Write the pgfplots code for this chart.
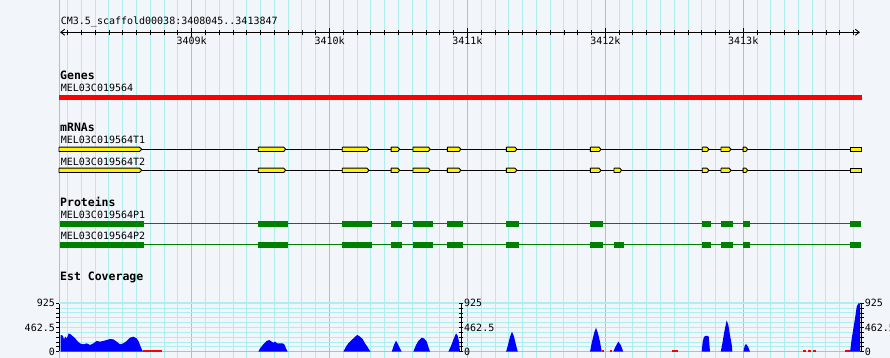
\documentclass[border=0pt]{standalone}
\usepackage{fontspec}
\setmainfont{DejaVu Sans Mono}
\usepackage{pgfplots}
\pgfplotsset{compat=1.18}
\usetikzlibrary{arrows.meta}
\definecolor{bgc}{HTML}{F2F5FA}
\definecolor{gridc}{HTML}{AEEEEE}
\definecolor{majc}{HTML}{93C8E8}
\definecolor{pgreen}{HTML}{008000}
\definecolor{covblue}{HTML}{0000FF}
\newcommand{\lf}{\fontsize{10}{12}\selectfont}
\newcommand{\bft}{\fontsize{11.5}{13}\selectfont\bfseries}
% mRNA exon: start, box end, tip end
\newcommand{\exonA}[3]{\addplot[fill=yellow, draw=black, line width=0.9pt] coordinates {(#1,147.1) (#2,147.1) (#3,149.3) (#2,151.5) (#1,151.5) (#1,147.1)};}
\newcommand{\exonB}[3]{\addplot[fill=yellow, draw=black, line width=0.9pt] coordinates {(#1,168.1) (#2,168.1) (#3,170.3) (#2,172.5) (#1,172.5) (#1,168.1)};}
\newcommand{\protA}[2]{\addplot[pgreen, line width=6pt] coordinates {(#1,223.7) (#2,223.7)};}
\newcommand{\protB}[2]{\addplot[pgreen, line width=6pt] coordinates {(#1,244.8) (#2,244.8)};}
\begin{document}
\begin{tikzpicture}
\useasboundingbox (0,0) rectangle (890pt,358pt);
\clip (0,0) rectangle (890pt,358pt);
% ---------- frame: background, vertical grid, feature tracks ----------
\begin{axis}[
  at={(0pt,0pt)}, anchor=south west,
  scale only axis, width=890pt, height=358pt,
  xmin=-390.2, xmax=6064.7, ymin=0, ymax=358, y dir=reverse,
  axis background/.style={fill=bgc},
  axis line style={draw=none},
  xtick=\empty, ytick=\empty,
  clip=false,
]
% vertical grid every 100 bp
\addplot[gridc, line width=1pt, ycomb] coordinates {
(100,358) (200,358) (300,358) (400,358) (500,358) (600,358) (700,358) (800,358) (900,358)
(1100,358) (1200,358) (1300,358) (1400,358) (1500,358) (1600,358) (1700,358) (1800,358) (1900,358)
(2100,358) (2200,358) (2300,358) (2400,358) (2500,358) (2600,358) (2700,358) (2800,358) (2900,358)
(3100,358) (3200,358) (3300,358) (3400,358) (3500,358) (3600,358) (3700,358) (3800,358) (3900,358)
(4100,358) (4200,358) (4300,358) (4400,358) (4500,358) (4600,358) (4700,358) (4800,358) (4900,358)
(5100,358) (5200,358) (5300,358) (5400,358) (5500,358) (5600,358) (5700,358) (5800,358)};
\addplot[majc, line width=1pt, ycomb] coordinates {(41,358) (1000,358) (2000,358) (3000,358) (4000,358) (5000,358)};
% Genes
\addplot[red, line width=5pt] coordinates {(38,97.5) (5860,97.5)};
% mRNAs
\addplot[black, line width=0.9pt] coordinates {(38,149.3) (5860,149.3)};
\addplot[black, line width=0.9pt] coordinates {(38,170.3) (5860,170.3)};
\exonA{38}{621}{638}
\exonA{1483}{1667}{1682}
\exonA{2092}{2271}{2286}
\exonA{2446}{2494}{2509}
\exonA{2605}{2716}{2731}
\exonA{2854}{2938}{2953}
\exonA{3282}{3344}{3359}
\exonA{3891}{3954}{3969}
\exonA{4703}{4737}{4752}
\exonA{4839}{4897}{4912}
\exonA{4999}{5018}{5033}
\exonA{5777}{5860}{5860}
\exonB{38}{621}{638}
\exonB{1483}{1667}{1682}
\exonB{2092}{2271}{2286}
\exonB{2446}{2494}{2509}
\exonB{2605}{2716}{2731}
\exonB{2854}{2938}{2953}
\exonB{3282}{3344}{3359}
\exonB{3891}{3954}{3969}
\exonB{4063}{4104}{4119}
\exonB{4703}{4737}{4752}
\exonB{4839}{4897}{4912}
\exonB{4999}{5018}{5033}
\exonB{5777}{5860}{5860}
% Proteins
\addplot[pgreen, line width=0.9pt] coordinates {(43,223.7) (5854,223.7)};
\addplot[pgreen, line width=0.9pt] coordinates {(43,244.8) (5854,244.8)};
\protA{43}{652}
\protA{1483}{1696}
\protA{2092}{2306}
\protA{2446}{2523}
\protA{2605}{2750}
\protA{2854}{2966}
\protA{3282}{3372}
\protA{3891}{3983}
\protA{4703}{4767}
\protA{4839}{4926}
\protA{4999}{5049}
\protA{5777}{5854}
\protB{43}{652}
\protB{1483}{1696}
\protB{2092}{2306}
\protB{2446}{2523}
\protB{2605}{2750}
\protB{2854}{2966}
\protB{3282}{3372}
\protB{3891}{3983}
\protB{4063}{4136}
\protB{4703}{4767}
\protB{4839}{4926}
\protB{4999}{5049}
\protB{5777}{5854}
% labels
\node[anchor=base west, inner sep=0pt, font=\lf] at (axis cs:50,24.5) {CM3.5\_scaffold00038:3408045..3413847};
\node[anchor=base west, inner sep=0pt, font=\bft] at (axis cs:45,79.7) {Genes};
\node[anchor=base west, inner sep=0pt, font=\lf] at (axis cs:50,92) {MEL03C019564};
\node[anchor=base west, inner sep=0pt, font=\bft] at (axis cs:45,132) {mRNAs};
\node[anchor=base west, inner sep=0pt, font=\lf] at (axis cs:50,144) {MEL03C019564T1};
\node[anchor=base west, inner sep=0pt, font=\lf] at (axis cs:50,165.7) {MEL03C019564T2};
\node[anchor=base west, inner sep=0pt, font=\bft] at (axis cs:45,206) {Proteins};
\node[anchor=base west, inner sep=0pt, font=\lf] at (axis cs:50,218.3) {MEL03C019564P1};
\node[anchor=base west, inner sep=0pt, font=\lf] at (axis cs:50,239.3) {MEL03C019564P2};
\node[anchor=base west, inner sep=0pt, font=\bft] at (axis cs:45,280) {Est Coverage};
\end{axis}
% ---------- ruler ----------
\begin{axis}[
  at={(60pt,325.7pt)}, anchor=south west,
  scale only axis, width=800pt, height=10pt,
  xmin=45, xmax=5847, ymin=0, ymax=1,
  axis x line*=bottom, axis y line=none,
  x axis line style={{Straight Barb[length=4pt,width=6pt]}-{Straight Barb[length=4pt,width=6pt]}, line width=0.9pt},
  xtick={1000,2000,3000,4000,5000},
  xticklabels={3409k,3410k,3411k,3412k,3413k},
  minor xtick={100,200,...,5800},
  tick align=center, major tick length=9.4pt, minor tick length=4.7pt,
  tick style={black, line width=0.9pt},
  xticklabel style={font=\lf, anchor=north, inner sep=0pt},
]
\end{axis}
% ---------- coverage ----------
\begin{axis}[
  at={(59.45pt,6.3pt)}, anchor=south west,
  scale only axis, width=802.2pt, height=48.4pt,
  xmin=41, xmax=5859, ymin=0, ymax=925,
  axis x line=none, axis y line*=left,
  ytick={0,462.5,925}, yticklabels={0,462.5,925},
  minor ytick={92.5,185,277.5,370,555,647.5,740,832.5},
  ymajorgrids, yminorgrids,
  major grid style={gridc, line width=1pt},
  minor grid style={gridc, line width=1pt},
  tick align=outside, major tick length=3.4pt, minor tick length=3.4pt,
  tick style={black, line width=0.9pt},
  y axis line style={black, line width=1pt},
  yticklabel style={font=\lf, inner sep=0pt, xshift=-1pt},
  clip=false,
]
\addplot[gridc, line width=2pt] coordinates {(41,925) (5859,925)};
\addplot[majc, line width=1pt] coordinates {(41,0) (5859,0)};
\addplot[fill=covblue, draw=none] coordinates {(50,0) (50,320) (65,306) (74,236) (83,287) (94,255) (108,350) (123,331) (141,287) (156,255) (170,205) (190,159) (214,140) (239,159) (263,128) (287,159) (311,205) (335,192) (359,205) (384,224) (408,243) (432,236) (456,192) (480,140) (504,159) (529,205) (553,268) (577,287) (601,255) (616,192) (625,128) (640,33) (649,0)};
\addplot[fill=covblue, draw=none] coordinates {(1483,0) (1496,63) (1519,140) (1544,205) (1563,224) (1580,192) (1592,172) (1604,192) (1621,159) (1641,159) (1660,159) (1672,140) (1684,63) (1696,0)};
\addplot[fill=covblue, draw=none] coordinates {(2100,0) (2119,96) (2136,159) (2161,224) (2185,287) (2201,320) (2221,287) (2240,243) (2257,159) (2274,96) (2288,33) (2298,0)};
\addplot[fill=covblue, draw=none] coordinates {(2451,0) (2467,128) (2482,211) (2499,128) (2523,0)};
\addplot[fill=covblue, draw=none] coordinates {(2607,0) (2627,128) (2644,205) (2668,268) (2685,255) (2705,192) (2716,96) (2729,0)};
\addplot[fill=covblue, draw=none] coordinates {(2861,0) (2879,96) (2897,224) (2917,350) (2929,306) (2939,192) (2946,0)};
\addplot[fill=covblue, draw=none] coordinates {(3280,0) (3294,128) (3309,287) (3323,383) (3338,287) (3352,128) (3365,0)};
\addplot[fill=covblue, draw=none] coordinates {(3889,0) (3903,192) (3918,350) (3932,460) (3947,350) (3961,192) (3974,0)};
\addplot[fill=covblue, draw=none] coordinates {(4058,0) (4070,77) (4094,192) (4112,128) (4130,0)};
\addplot[fill=covblue, draw=none] coordinates {(4699,0) (4706,192) (4716,287) (4735,306) (4750,287) (4759,0)};
\addplot[fill=covblue, draw=none] coordinates {(4837,0) (4851,192) (4863,383) (4880,599) (4892,511) (4904,320) (4917,128) (4921,0)};
\addplot[fill=covblue, draw=none] coordinates {(5001,0) (5011,115) (5020,147) (5035,96) (5049,0)};
\addplot[fill=covblue, draw=none] coordinates {(5775,0) (5787,255) (5799,446) (5811,638) (5823,862) (5835,925) (5847,925) (5847,0)};
% zero-coverage marks
\addplot[red, line width=1.3pt] coordinates {(649,12) (785,12)};
\addplot[red, line width=1.3pt] coordinates {(3974,12) (3991,12)};
\addplot[red, line width=1.3pt] coordinates {(4035,12) (4045,12)};
\addplot[red, line width=1.3pt] coordinates {(4481,12) (4529,12)};
\addplot[red, line width=1.3pt, dash pattern=on 3pt off 2pt] coordinates {(5436,12) (5533,12)};
\addplot[red, line width=1.3pt] coordinates {(5738,12) (5775,12)};
\end{axis}
% middle scale
\begin{axis}[
  at={(461pt,6.3pt)}, anchor=south east,
  scale only axis, width=1pt, height=48.4pt,
  xmin=0, xmax=1, ymin=0, ymax=925,
  axis x line=none, axis y line*=right,
  ytick={0,462.5,925}, yticklabels={0,462.5,925},
  minor ytick={92.5,185,277.5,370,555,647.5,740,832.5},
  tick align=center, major tick length=4pt, minor tick length=4pt,
  tick style={black, line width=0.9pt},
  y axis line style={black, line width=1pt},
  yticklabel style={font=\lf, inner sep=0pt, xshift=1pt},
]
\end{axis}
% right scale
\begin{axis}[
  at={(861.7pt,6.3pt)}, anchor=south east,
  scale only axis, width=1pt, height=48.4pt,
  xmin=0, xmax=1, ymin=0, ymax=925,
  axis x line=none, axis y line*=right,
  ytick={0,462.5,925}, yticklabels={0,462.5,925},
  minor ytick={92.5,185,277.5,370,555,647.5,740,832.5},
  tick align=center, major tick length=4pt, minor tick length=4pt,
  tick style={black, line width=0.9pt},
  y axis line style={black, line width=1pt},
  yticklabel style={font=\lf, inner sep=0pt, xshift=1pt},
]
\end{axis}
\end{tikzpicture}
\end{document}
